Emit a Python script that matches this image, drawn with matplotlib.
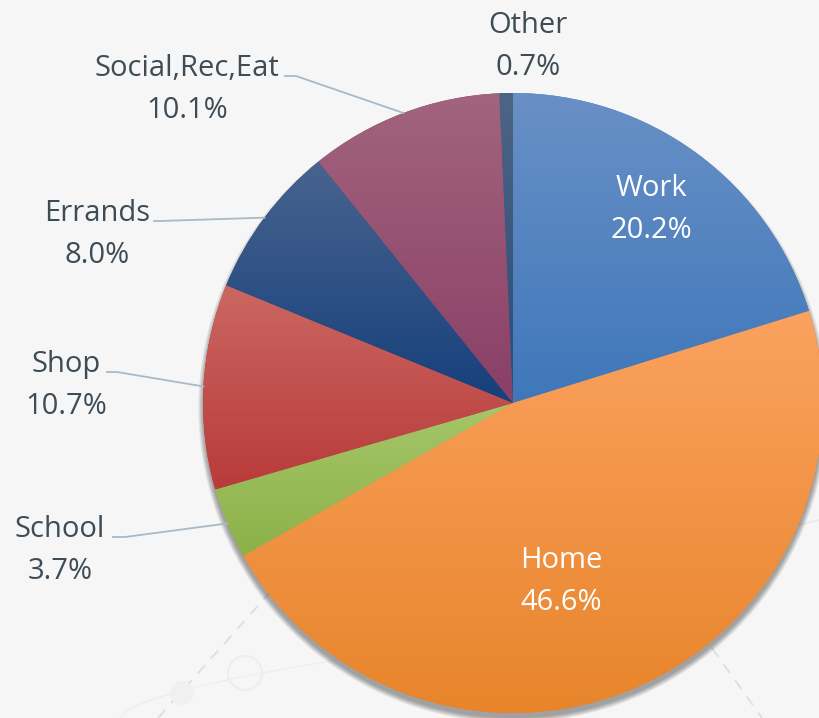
import numpy as np
import matplotlib
matplotlib.use("Agg")
import matplotlib.pyplot as plt
from matplotlib.colors import LinearSegmentedColormap
from matplotlib.patches import Circle

# ---- data ----
categories = ["Work", "Home", "School", "Shop", "Errands", "Social,Rec,Eat", "Other"]
shares = [20.2, 46.6, 3.7, 10.7, 8.0, 10.1, 0.7]
top_colors = ["#6990c6", "#fba25f", "#a6c66a", "#cb6762", "#48648f", "#a2647e", "#4d6585"]
bottom_colors = ["#3f77ba", "#e8852b", "#8cb148", "#b83b3a", "#163f7b", "#8a3f66", "#2a4a78"]

W, H = 819, 718
CX, CY, R = 513, H - 403, 310
TEXT = "#3e4c55"
LEADER = "#a9b9c5"

plt.rcParams['font.family'] = ['Open Sans', 'DejaVu Sans']

fig = plt.figure(figsize=(W / 100, H / 100), dpi=100)
fig.patch.set_facecolor("#f6f6f6")
ax = fig.add_axes([0, 0, 1, 1])
ax.set_facecolor("#f6f6f6")

# faint background decoration
ax.plot([158, 272], [0, H - 590], ls=(0, (6, 5)), color="#dedede", lw=1.3, zorder=0)
ax.plot([712, 762], [H - 648, 0], ls=(0, (6, 5)), color="#dedede", lw=1.3, zorder=0)
t = np.linspace(0, 1, 50)
ax.plot(120 + 230 * t, H - (718 - 60 * t ** 0.6), color="#eeeeee", lw=1, zorder=0)
ax.plot([790, 819], [H - 527, H - 520], color="#e8e8e8", lw=1, zorder=0)
ax.add_patch(Circle((245, H - 673), 17, fc="none", ec="#ededed", lw=1.5, zorder=0))
ax.add_patch(Circle((182, H - 693), 12, fc="#f0f0f0", ec="none", zorder=0))

# soft drop shadow, mostly below the pie
for k in range(9):
    ax.add_patch(Circle((CX, CY - 5), R + k * 0.6, fc="#000000",
                        alpha=0.045, ec="none", zorder=1))

wedges, _ = ax.pie(shares, center=(CX, CY), radius=R, startangle=90,
                   counterclock=False, frame=True, colors=bottom_colors,
                   wedgeprops=dict(linewidth=0, zorder=2))

# vertical gradient per slice
for w, c0, c1 in zip(wedges, top_colors, bottom_colors):
    ext = w.get_path().get_extents(w.get_patch_transform())
    cmap = LinearSegmentedColormap.from_list("g", [c1, c0])
    grad = np.linspace(0, 1, 256).reshape(-1, 1)
    im = ax.imshow(grad, cmap=cmap, origin="lower", aspect="auto",
                   extent=[ext.x0, ext.x1, ext.y0, ext.y1], zorder=3)
    im.set_clip_path(w)
    w.set_zorder(2)

ax.set_xlim(0, W)
ax.set_ylim(0, H)
ax.set_aspect("equal")
ax.axis("off")

FS = 21

def rim_point(w):
    a = np.deg2rad((w.theta1 + w.theta2) / 2)
    return CX + R * np.cos(a), CY + R * np.sin(a)

def label(name, pct, x, y, color=TEXT):
    ax.text(x, H - y, name, ha="center", va="baseline", fontsize=FS, color=color, zorder=5)
    ax.text(x, H - y - 42, pct, ha="center", va="baseline", fontsize=FS, color=color, zorder=5)

# inside labels
label("Work", "20.2%", 651, 196, "white")
label("Home", "46.6%", 561, 568, "white")

# outside labels with leaders: (center x, baseline y, leader start x, elbow x)
outside = {
    "School": (60, 537, 113, 125),
    "Shop": (66, 372, 107, 117),
    "Errands": (97, 221, 154, 160),
    "Social,Rec,Eat": (187, 76, 285, 296),
}
for i, name in enumerate(categories):
    pct = f"{shares[i]:.1f}%"
    if name in outside:
        x, y, sx, ex = outside[name]
        label(name, pct, x, y)
        px, py = rim_point(wedges[i])
        ax.plot([sx, ex, px], [H - y, H - y, py], color=LEADER, lw=1.3, zorder=4)
    elif name == "Other":
        label(name, pct, 528, 33)

fig.savefig("out.png", dpi=100, facecolor=fig.get_facecolor())
